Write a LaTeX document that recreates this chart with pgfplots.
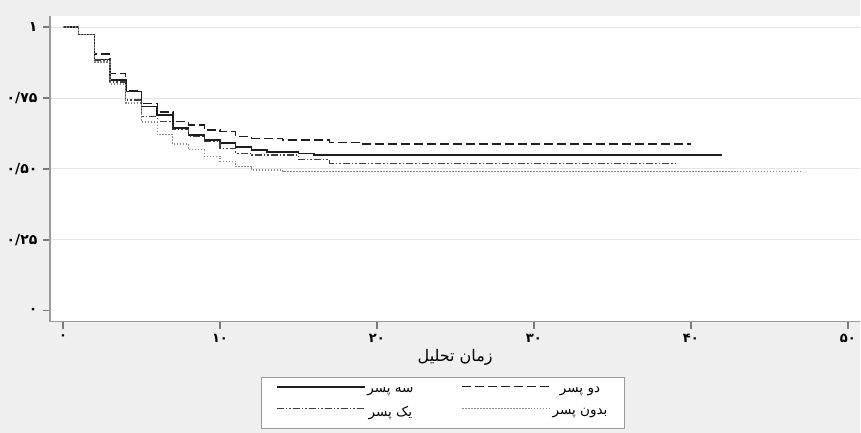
\documentclass[border=0pt]{standalone}
\usepackage{pgfplots}
\pgfplotsset{compat=1.18}
\usepackage{fontspec}
\TeXXeTstate=1
\newfontfamily\arabicfont[Script=Arabic]{DejaVu Sans}
\definecolor{bg}{HTML}{EFEFEF}
\definecolor{axgray}{HTML}{9A9A9A}
\definecolor{tickgray}{HTML}{7A7A7A}
\definecolor{gridgray}{HTML}{E4E4E4}
\definecolor{lnsolid}{HTML}{1E1E1E}
\definecolor{lndot}{HTML}{8A8A8A}

\pgfplotstableread{
t s
0 1.000
1 0.974
2 0.886
3 0.813
4 0.772
5 0.719
6 0.690
7 0.644
8 0.620
9 0.602
10 0.592
11 0.577
12 0.567
13 0.560
15 0.555
16 0.549
42 0.549
}\sepesar

\pgfplotstableread{
t s
0 1.000
1 0.974
2 0.905
3 0.835
4 0.776
5 0.731
6 0.700
7 0.667
8 0.655
9 0.637
10 0.631
11 0.614
12 0.608
14 0.602
17 0.594
19 0.588
40 0.588
}\dopesar

\pgfplotstableread{
t s
0 1.000
1 0.974
2 0.884
3 0.806
4 0.743
5 0.684
6 0.667
7 0.640
8 0.614
9 0.596
10 0.573
11 0.555
12 0.549
15 0.532
17 0.520
39 0.520
}\yekpesar

\pgfplotstableread{
t s
0 1.000
1 0.974
2 0.877
3 0.799
4 0.732
5 0.665
6 0.620
7 0.588
8 0.567
9 0.545
10 0.527
11 0.508
12 0.496
14 0.491
47 0.491
}\bedoonpesar

\begin{document}
\begin{tikzpicture}
\fill[bg] (0pt,0pt) rectangle (861pt,433pt);
\begin{axis}[
  at={(50pt,111pt)}, anchor=south west,
  scale only axis, width=811pt, height=306pt,
  xmin=-0.83, xmax=50.8, ymin=-0.039, ymax=1.039,
  axis background/.style={fill=white},
  axis line style={draw=none},
  clip=false,
  xtick pos=bottom, ytick pos=left,
  xtick={0,10,20,30,40,50},
  xticklabels={۰,۱۰,۲۰,۳۰,۴۰,۵۰},
  ytick={0,0.25,0.5,0.75,1},
  yticklabels={۰,۰/۲۵,۰/۵۰,۰/۷۵,۱},
  tick align=outside, major tick length=7pt,
  major tick style={draw=tickgray, line width=1.5pt},
  xticklabel style={font=\arabicfont\bfseries\fontsize{13}{15}\selectfont, yshift=-2pt},
  yticklabel style={font=\arabicfont\bfseries\fontsize{14}{16}\selectfont, xshift=-2pt},
  xlabel={\arabicfont\beginR زمان تحلیل\endR},
  xlabel style={font=\fontsize{16}{18}\selectfont, yshift=0pt},
  legend style={at={(0.4846,-0.2647)}, anchor=center, legend columns=2,
    draw=axgray, fill=white, font=\arabicfont\fontsize{13.5}{15}\selectfont,
    /tikz/every even column/.append style={column sep=46pt},
    row sep=8pt,
    inner xsep=15pt, inner ysep=8pt},
  legend image code/.code={\draw[#1] (0pt,4pt) -- (88pt,4pt);},
]
\draw[gridgray, line width=0.8pt] (axis cs:-0.83,0.25) -- (axis cs:50.8,0.25);
\draw[gridgray, line width=0.8pt] (axis cs:-0.83,0.5) -- (axis cs:50.8,0.5);
\draw[gridgray, line width=0.8pt] (axis cs:-0.83,0.75) -- (axis cs:50.8,0.75);
\draw[gridgray, line width=0.8pt] (axis cs:-0.83,1) -- (axis cs:50.8,1);
\pgfplotsinvokeforeach{0,10,20,30,40,50}{
  \draw[tickgray, line width=1.5pt] (axis cs:#1,-0.039) -- ++(0pt,-7pt);
}
\pgfplotsinvokeforeach{0,0.25,0.5,0.75,1}{
  \draw[tickgray, line width=1.5pt] (axis cs:-0.83,#1) -- ++(-7pt,0pt);
}
\draw[axgray, line width=1.3pt] (rel axis cs:0,1) -- (rel axis cs:0,0) -- (rel axis cs:1,0);
\addplot[const plot, lnsolid, line width=1.5pt] table[x=t,y=s] {\sepesar};
\addlegendentry{\beginR سه پسر\endR}
\addplot[const plot, lnsolid, line width=1.3pt, dash pattern=on 9pt off 4pt] table[x=t,y=s] {\dopesar};
\addlegendentry{\beginR دو پسر\endR}
\addplot[const plot, black!75, line width=1.2pt, dash pattern=on 7pt off 2pt on 1.5pt off 2pt on 1.5pt off 2pt] table[x=t,y=s] {\yekpesar};
\addlegendentry{\beginR یک پسر\endR}
\addplot[const plot, lndot, line width=1.2pt, dash pattern=on 1.5pt off 1.5pt] table[x=t,y=s] {\bedoonpesar};
\addlegendentry{\beginR بدون پسر\endR}
\end{axis}
\useasboundingbox (0pt,0pt) rectangle (861pt,433pt);
\end{tikzpicture}
\end{document}
